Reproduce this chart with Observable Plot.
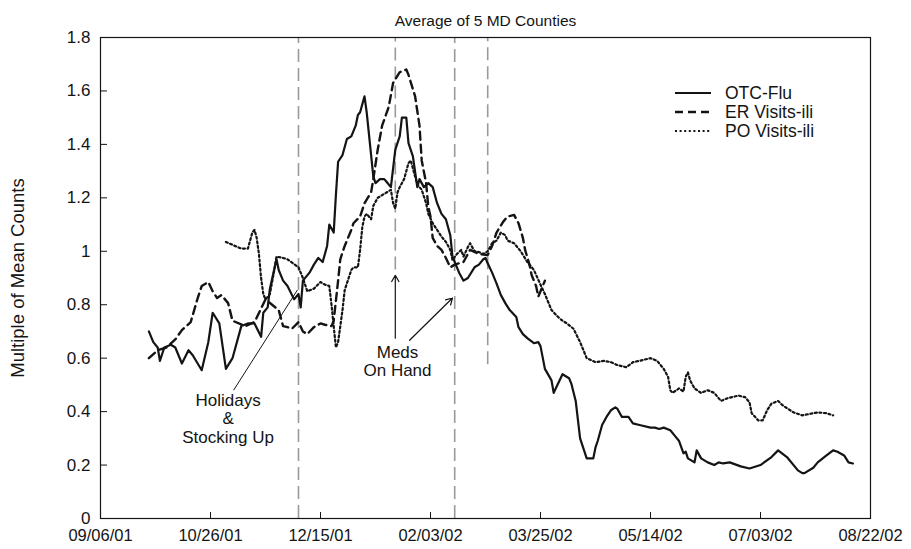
<!DOCTYPE html>
<html>
<head>
<meta charset="utf-8">
<script src="https://cdn.jsdelivr.net/npm/d3@7"></script>
<script src="https://cdn.jsdelivr.net/npm/@observablehq/plot@0.6"></script>
<style>
  body { margin: 0; background: #fff; }
  #chart { width: 911px; height: 549px; font-family: "Liberation Sans", Arial, sans-serif; }
</style>
</head>
<body>
<div id="chart"></div>
<script>
// Season runs from 09/06/01; series positions are day offsets from that date.
const seasonStart = "2001-09-06";
const seasonLength = 350;

const chartTitle = "Average of 5 MD Counties";
const yLabel = "Multiple of Mean Counts";

// Axis ticks: every 50 days, and 0..1.8 by 0.2
const xTickDays = [0, 50, 100, 150, 200, 250, 300, 350];
const yTicks = [0, 0.2, 0.4, 0.6, 0.8, 1, 1.2, 1.4, 1.6, 1.8];

// OTC flu remedy sales
const otcDay = [22,24,26,27,29,32,34,37,40,42,46,49,51,54,57,60,64,67,70,73,74,76,77,80,81,83,85,88,90,91,92,95,97,99,101,103,104,106,107,108,110,112,114,116,117,118,120,121,124,125,127,129,130,132,134,136,137,139,140,142,144,145,147,149,151,153,155,157,159,160,163,165,167,170,172,174,175,176,178,180,182,184,186,189,190,192,194,197,199,200,202,205,206,208,210,213,214,216,218,221,224,225,226,228,230,232,234,235,237,240,242,245,250,252,254,256,259,261,263,265,266,267,270,271,273,276,279,281,283,286,291,295,300,305,308,312,317,319,320,324,326,330,333,335,338,340,342];
const otcValue = [0.70,0.66,0.64,0.59,0.64,0.65,0.64,0.58,0.63,0.61,0.555,0.66,0.77,0.73,0.56,0.60,0.72,0.73,0.73,0.68,0.77,0.79,0.86,0.97,0.93,0.89,0.87,0.82,0.84,0.79,0.89,0.92,0.95,0.975,0.96,1.02,1.10,1.07,1.21,1.335,1.36,1.42,1.43,1.47,1.51,1.52,1.58,1.52,1.28,1.255,1.27,1.27,1.26,1.24,1.38,1.43,1.50,1.50,1.405,1.355,1.24,1.27,1.24,1.255,1.24,1.18,1.14,1.12,1.06,0.98,0.92,0.89,0.90,0.94,0.95,0.97,0.975,0.955,0.92,0.88,0.836,0.806,0.78,0.754,0.716,0.69,0.675,0.656,0.66,0.645,0.56,0.517,0.47,0.505,0.54,0.525,0.505,0.44,0.30,0.225,0.225,0.266,0.29,0.35,0.38,0.405,0.416,0.41,0.38,0.38,0.356,0.35,0.34,0.34,0.335,0.34,0.33,0.31,0.29,0.244,0.25,0.225,0.21,0.255,0.225,0.21,0.20,0.21,0.206,0.21,0.195,0.187,0.20,0.23,0.255,0.23,0.18,0.17,0.17,0.19,0.21,0.236,0.255,0.25,0.236,0.21,0.206];

// Emergency room visits, influenza-like illness
const erDay = [22,26,30,34,37,41,44,46,49,51,53,55,58,60,66,70,75,78,81,83,85,87,90,92,94,97,100,102,105,106,108,109,111,114,115,118,120,123,124,126,128,131,133,136,139,140,143,145,146,148,149,150,151,153,155,157,159,161,165,168,172,176,178,180,183,185,188,190,192,193,195,196,198,199,201,202];
const erValue = [0.60,0.63,0.64,0.67,0.705,0.735,0.82,0.87,0.885,0.85,0.825,0.836,0.806,0.74,0.72,0.735,0.82,0.80,0.78,0.72,0.716,0.71,0.735,0.70,0.69,0.716,0.73,0.725,0.72,0.74,0.89,0.97,1.02,1.08,1.105,1.13,1.18,1.22,1.27,1.38,1.47,1.54,1.63,1.67,1.68,1.66,1.58,1.47,1.34,1.255,1.166,1.13,1.05,1.02,1.005,0.975,0.94,0.95,0.96,1.005,0.99,0.986,1.02,1.07,1.11,1.13,1.136,1.105,1.05,1.005,0.95,0.91,0.87,0.83,0.87,0.89];

// Physician office visits, influenza-like illness
const poDay = [57,60,64,67,69,70,71,72,73,74,75,77,79,80,83,85,90,92,94,97,100,102,104,105,106,107,108,110,111,114,115,117,118,119,120,121,123,124,126,130,132,133,134,135,136,138,140,141,143,144,146,148,149,151,153,155,157,159,160,162,164,165,167,168,170,172,174,176,178,180,182,184,185,188,191,194,197,200,202,205,208,210,212,215,218,221,225,229,232,235,239,242,245,250,253,256,258,259,260,263,265,266,267,268,270,273,276,279,282,285,290,293,295,296,299,301,303,305,308,310,315,319,324,326,330,333];
const poValue = [1.035,1.024,1.01,1.01,1.07,1.08,1.05,0.99,0.90,0.84,0.82,0.84,0.93,0.98,0.975,0.97,0.94,0.90,0.85,0.86,0.885,0.875,0.87,0.80,0.72,0.64,0.66,0.78,0.855,0.93,0.94,0.94,1.005,1.09,1.13,1.14,1.12,1.17,1.20,1.22,1.23,1.18,1.16,1.22,1.24,1.27,1.33,1.34,1.28,1.25,1.23,1.18,1.14,1.105,1.08,1.055,1.035,1.005,0.967,0.99,1.005,0.98,1.016,1.03,1.0,0.997,0.99,1.0,1.03,1.04,1.07,1.06,1.04,1.03,1.0,0.96,0.93,0.875,0.84,0.78,0.754,0.74,0.73,0.71,0.66,0.60,0.585,0.59,0.585,0.574,0.566,0.585,0.59,0.60,0.59,0.56,0.53,0.48,0.47,0.487,0.475,0.53,0.547,0.517,0.487,0.47,0.48,0.47,0.44,0.45,0.46,0.454,0.435,0.394,0.367,0.367,0.405,0.43,0.44,0.424,0.397,0.386,0.394,0.397,0.394,0.386];

const seriesNames = ["OTC-Flu", "ER Visits-ili", "PO Visits-ili"];

// Event markers: day offset and vertical extent of each dashed line
const markerDay = [90, 134, 161, 176];
const markerTop = [1.8, 1.8, 1.8, 1.8];
const markerBottom = [0, 0.93, 0, 0.575];

// Annotations
const holidayText = "Holidays\n&\nStocking Up";
const holidayLabel = {day: 58, value: 0.375};
const holidayPointer = {day1: 60.5, value1: 0.48, day2: 89.5, value2: 0.855};
const medsText = "Meds\nOn Hand";
const medsLabel = {day: 135, value: 0.59};
const medsArrows = [
  {day1: 134, value1: 0.675, day2: 134, value2: 0.91},
  {day1: 140.5, value1: 0.667, day2: 160, value2: 0.825}
];

const start = d3.utcParse("%Y-%m-%d")(seasonStart);
const toDate = d => new Date(start.getTime() + d * 864e5);

function table(days, values) {
  if (days.length !== values.length) throw new Error("length mismatch " + days.length + " vs " + values.length);
  return days.map((d, i) => ({date: toDate(d), value: values[i]}));
}
const otc = table(otcDay, otcValue);
const er = table(erDay, erValue);
const po = table(poDay, poValue);
const markers = markerDay.map((d, i) => ({date: toDate(d), y1: markerBottom[i], y2: markerTop[i]}));

const ink = "#141414";
const styles = [
  {stroke: ink, strokeWidth: 2.2, strokeDasharray: null},
  {stroke: ink, strokeWidth: 2.4, strokeDasharray: "8,5"},
  {stroke: ink, strokeWidth: 2.2, strokeDasharray: "2,2.6"}
];
const font = "Liberation Sans, Arial, sans-serif";

const chart = Plot.plot({
  width: 911,
  height: 549,
  marginLeft: 100,
  marginRight: 41,
  marginTop: 37,
  marginBottom: 31,
  style: {fontFamily: font, fontSize: "17px", color: ink, background: "#fff", overflow: "visible"},
  x: {type: "utc", domain: [toDate(0), toDate(seasonLength)]},
  y: {domain: [0, 1.8]},
  marks: [
    Plot.ruleX(markers, {x: "date", y1: "y1", y2: "y2", stroke: "#9a9a9a", strokeWidth: 1.6, strokeDasharray: "13,6"}),
    Plot.frame({stroke: ink, strokeWidth: 1.2}),
    Plot.axisX({ticks: xTickDays.map(toDate), tickFormat: d3.utcFormat("%m/%d/%y"), tickSize: -6, tickPadding: 17, label: null, fontSize: 16.5}),
    Plot.axisY({ticks: yTicks, tickFormat: d3.format("~g"), tickSize: -7, tickPadding: 17, fontSize: 17,
      label: yLabel, labelAnchor: "center", labelArrow: "none", labelOffset: 90}),
    Plot.line(otc, {x: "date", y: "value", ...styles[0], strokeLinejoin: "round"}),
    Plot.line(er, {x: "date", y: "value", ...styles[1]}),
    Plot.line(po, {x: "date", y: "value", ...styles[2]}),
    Plot.link([holidayPointer], {x1: d => toDate(d.day1), y1: "value1", x2: d => toDate(d.day2), y2: "value2", stroke: ink, strokeWidth: 1}),
    Plot.arrow(medsArrows, {x1: d => toDate(d.day1), y1: "value1", x2: d => toDate(d.day2), y2: "value2", stroke: ink, strokeWidth: 1.2, headLength: 9, bend: 0}),
    Plot.text([holidayLabel], {x: d => toDate(d.day), y: "value", text: () => holidayText, fontSize: 17, lineHeight: 1.08, fill: ink}),
    Plot.text([medsLabel], {x: d => toDate(d.day), y: "value", text: () => medsText, fontSize: 17, lineHeight: 1.08, fill: ink}),
    Plot.text([chartTitle], {frameAnchor: "top", dy: -23, fontSize: 15.5, fill: ink})
  ]
});

// Y-axis title is a bit larger than the tick labels
d3.select(chart).selectAll("[aria-label='y-axis label'] text").attr("font-size", 18.5);

// Legend in the upper right of the plot area
const svg = d3.select(chart);
const legend = svg.append("g")
  .attr("font-family", font).attr("font-size", 17.5).attr("fill", ink).attr("text-anchor", "start");
seriesNames.forEach((name, i) => {
  const y = 93 + i * 19;
  const s = styles[i];
  legend.append("line")
    .attr("x1", 675).attr("x2", 711).attr("y1", y).attr("y2", y)
    .attr("stroke", s.stroke).attr("stroke-width", s.strokeWidth)
    .attr("stroke-dasharray", s.strokeDasharray);
  legend.append("text").attr("x", 725).attr("y", y).attr("dy", "0.35em").text(name);
});

document.getElementById("chart").appendChild(chart);
</script>
</body>
</html>
